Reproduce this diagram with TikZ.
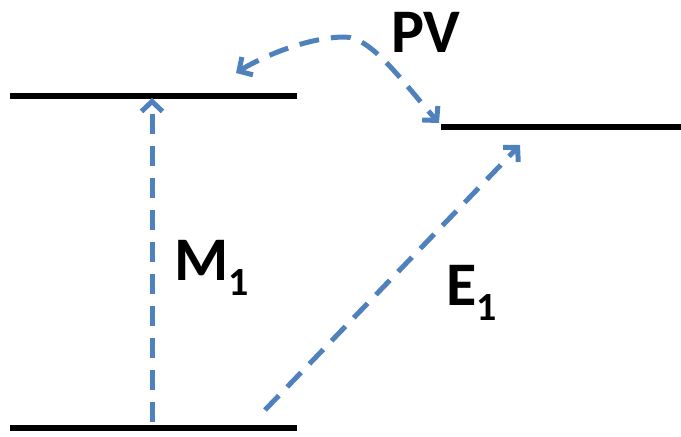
\documentclass[tikz,border=0pt]{standalone}
\usepackage{fontspec}
\setmainfont{Carlito}
\usetikzlibrary{arrows.meta}
\definecolor{ablue}{HTML}{4F81BD}
\tikzset{
  level/.style={line width=6pt, black},
  tip/.tip={Straight Barb[length=10pt,width=21pt]},
  trans/.style={line width=5pt, ablue, dash pattern=on 20pt off 12pt, -tip},
  lbl/.style={inner sep=0pt, font=\fontsize{62}{62}\selectfont\bfseries},
}
\newcommand{\mysub}[1]{\raisebox{-15pt}{\fontsize{40}{40}\selectfont #1}}
\begin{document}
\begin{tikzpicture}[x=1pt,y=-1pt]
\useasboundingbox (0,0) rectangle (681,437);
% levels
\coordinate (ulA) at (10,96);  \coordinate (ulB) at (297,96);
\coordinate (rA) at (441,127); \coordinate (rB) at (681,127);
\coordinate (bA) at (10,428);  \coordinate (bB) at (297,428);
\draw[level] (ulA) -- (ulB);
\draw[level] (rA) -- (rB);
\draw[level] (bA) -- (bB);
% transitions
\coordinate (m1s) at (152,422); \coordinate (m1e) at (152,98);
\coordinate (e1s) at (265,410); \coordinate (e1e) at (520,145);
\coordinate (pvs) at (236,73);  \coordinate (pvm) at (345,37); \coordinate (pve) at (439,123);
\draw[trans] (m1s) -- (m1e);
\draw[trans] (e1s) -- (e1e);
\draw[trans, tip-tip]
  (pvs) .. controls (265,55) and (310,37) .. (pvm)
        .. controls (372,37) and (405,85) .. (pve);
% labels
\node[lbl, anchor=base west] (pv) at (391,52) {PV};
\node[lbl, anchor=base west] (m1) at (174,280) {M\mysub{1}};
\node[lbl, anchor=base west] (e1) at (446,305) {E\mysub{1}};
\end{tikzpicture}
\end{document}
